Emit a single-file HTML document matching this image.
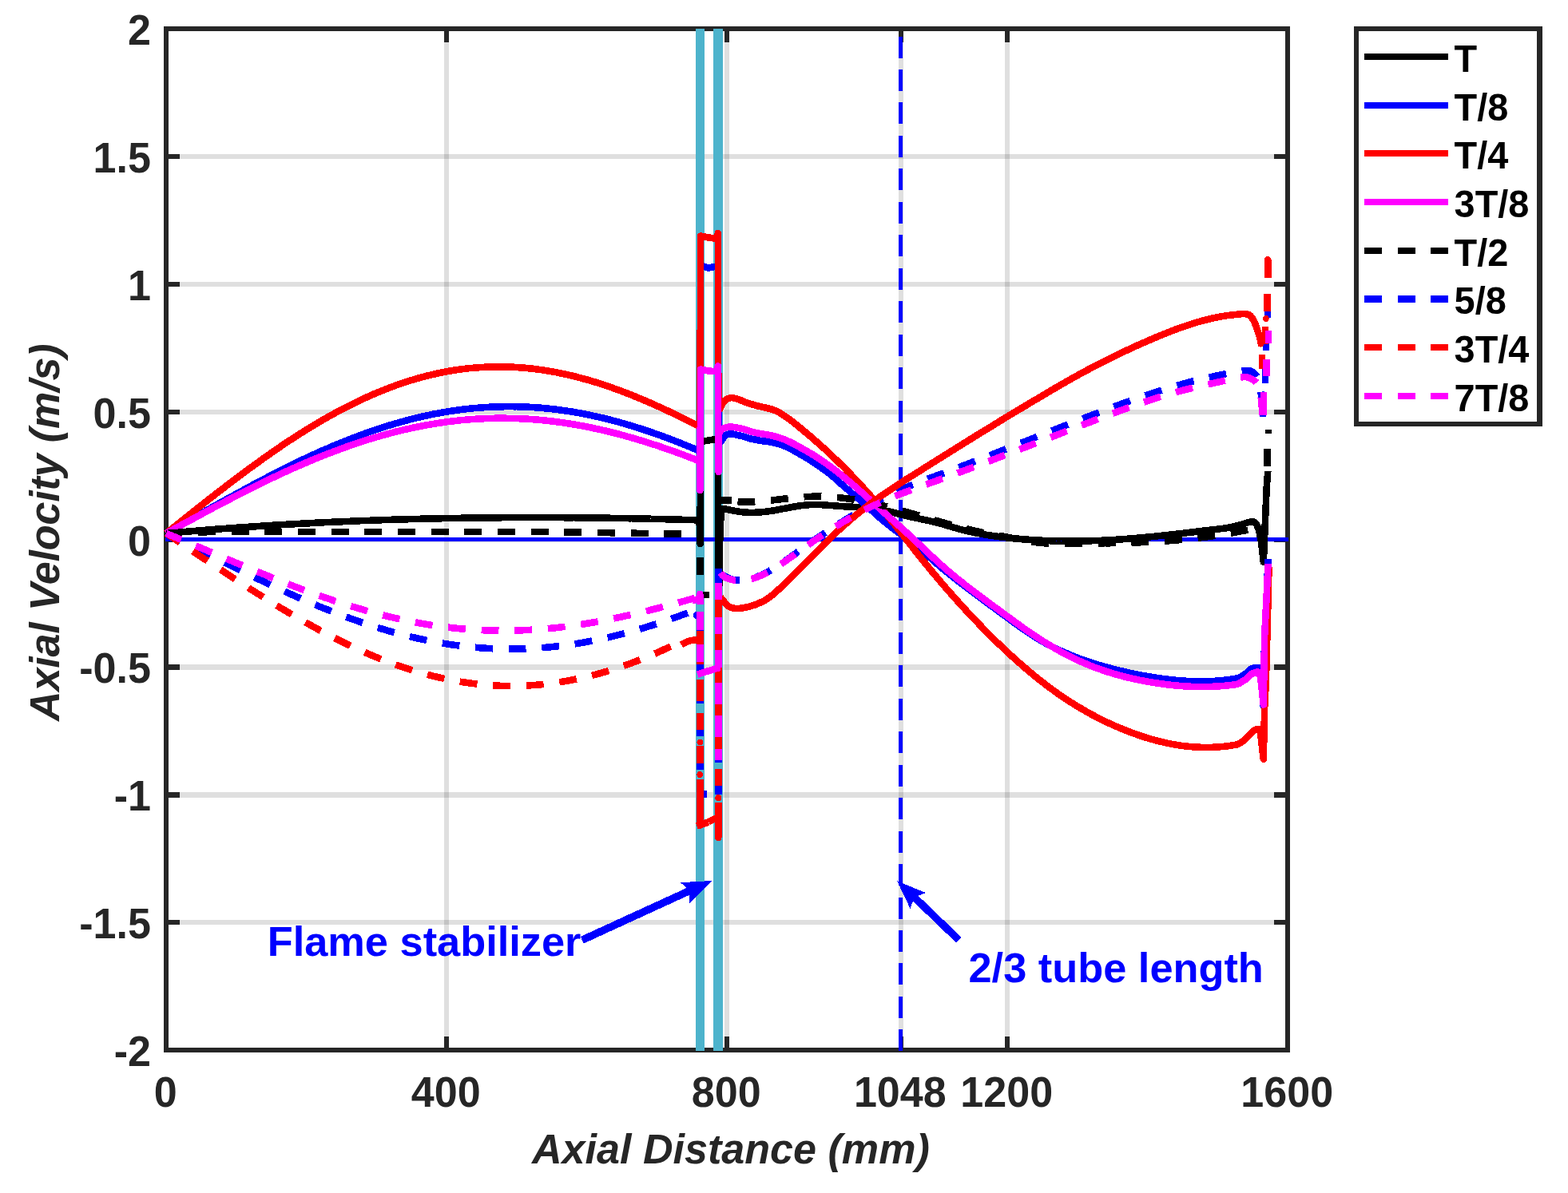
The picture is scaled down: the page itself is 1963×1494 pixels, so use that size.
<!DOCTYPE html>
<html lang="en"><head><meta charset="utf-8"><title>Axial Velocity vs Axial Distance</title>
<style>html,body{margin:0;padding:0;background:#fff;}body{width:1963px;height:1494px;overflow:hidden;}svg{display:block;}text{font-family:"Liberation Sans",Arial,Helvetica,sans-serif;font-weight:bold;}</style>
</head><body>
<svg width="1963" height="1494" viewBox="0 0 1963 1494" role="img" aria-label="Axial velocity versus axial distance at eight phases of the oscillation period">
<rect width="1963" height="1494" fill="#fff"/>
<g fill="#262626" shape-rendering="crispEdges">
<rect x="205" y="33" width="1410" height="6"/>
<rect x="205" y="1312" width="1410" height="6"/>
<rect x="205" y="33" width="6" height="1285"/>
<rect x="1609" y="33" width="6" height="1285"/>
<rect x="556" y="39" width="6" height="14"/>
<rect x="556" y="1298" width="6" height="14"/>
<rect x="907" y="39" width="6" height="14"/>
<rect x="907" y="1298" width="6" height="14"/>
<rect x="1125" y="39" width="6" height="14"/>
<rect x="1125" y="1298" width="6" height="14"/>
<rect x="1258" y="39" width="6" height="14"/>
<rect x="1258" y="1298" width="6" height="14"/>
<rect x="211" y="193" width="14" height="6"/>
<rect x="1595" y="193" width="14" height="6"/>
<rect x="211" y="353" width="14" height="6"/>
<rect x="1595" y="353" width="14" height="6"/>
<rect x="211" y="513" width="14" height="6"/>
<rect x="1595" y="513" width="14" height="6"/>
<rect x="211" y="673" width="14" height="6"/>
<rect x="1595" y="673" width="14" height="6"/>
<rect x="211" y="832" width="14" height="7"/>
<rect x="1595" y="832" width="14" height="7"/>
<rect x="211" y="992" width="14" height="7"/>
<rect x="1595" y="992" width="14" height="7"/>
<rect x="211" y="1152" width="14" height="6"/>
<rect x="1595" y="1152" width="14" height="6"/>
</g>
<g fill="#262626" fill-opacity="0.15" shape-rendering="crispEdges">
<rect x="556" y="53" width="6" height="1245"/>
<rect x="907" y="53" width="6" height="1245"/>
<rect x="1125" y="53" width="6" height="1245"/>
<rect x="1258" y="53" width="6" height="1245"/>
<rect x="225" y="193" width="1370" height="6"/>
<rect x="225" y="353" width="1370" height="6"/>
<rect x="225" y="513" width="1370" height="6"/>
<rect x="225" y="673" width="1370" height="6"/>
<rect x="225" y="832" width="1370" height="7"/>
<rect x="225" y="992" width="1370" height="7"/>
<rect x="225" y="1152" width="1370" height="6"/>
</g>
<g fill="#4db3cc" shape-rendering="crispEdges">
<rect x="871" y="36" width="11" height="1280"/>
<rect x="893" y="36" width="12" height="1280"/>
</g>
<rect x="207" y="673" width="1406" height="5" fill="#0000ff" shape-rendering="crispEdges"/>
<g fill="#0000ff" shape-rendering="crispEdges">
<rect x="1125" y="45.5" width="5" height="27.0"/>
<rect x="1125" y="87.0" width="5" height="27.0"/>
<rect x="1125" y="128.4" width="5" height="27.0"/>
<rect x="1125" y="169.9" width="5" height="27.0"/>
<rect x="1125" y="211.3" width="5" height="27.0"/>
<rect x="1125" y="252.8" width="5" height="27.0"/>
<rect x="1125" y="294.3" width="5" height="27.0"/>
<rect x="1125" y="335.7" width="5" height="27.0"/>
<rect x="1125" y="377.2" width="5" height="27.0"/>
<rect x="1125" y="418.6" width="5" height="27.0"/>
<rect x="1125" y="460.1" width="5" height="27.0"/>
<rect x="1125" y="501.6" width="5" height="27.0"/>
<rect x="1125" y="543.0" width="5" height="27.0"/>
<rect x="1125" y="584.5" width="5" height="27.0"/>
<rect x="1125" y="625.9" width="5" height="27.0"/>
<rect x="1125" y="667.4" width="5" height="27.0"/>
<rect x="1125" y="708.9" width="5" height="27.0"/>
<rect x="1125" y="750.3" width="5" height="27.0"/>
<rect x="1125" y="791.8" width="5" height="27.0"/>
<rect x="1125" y="833.2" width="5" height="27.0"/>
<rect x="1125" y="874.7" width="5" height="27.0"/>
<rect x="1125" y="916.2" width="5" height="27.0"/>
<rect x="1125" y="957.6" width="5" height="27.0"/>
<rect x="1125" y="999.1" width="5" height="27.0"/>
<rect x="1125" y="1040.5" width="5" height="27.0"/>
<rect x="1125" y="1082.0" width="5" height="27.0"/>
<rect x="1125" y="1123.5" width="5" height="27.0"/>
<rect x="1125" y="1164.9" width="5" height="27.0"/>
<rect x="1125" y="1206.4" width="5" height="27.0"/>
<rect x="1125" y="1247.8" width="5" height="27.0"/>
<rect x="1125" y="1289.3" width="5" height="27.0"/>
</g>
<g fill="none" stroke-width="8.6" stroke-linejoin="round" stroke-linecap="butt" shape-rendering="crispEdges">
<path d="M208 668 L211 667.7 L214 667.5 L217 667.2 L220 666.9 L223 666.7 L226 666.4 L229 666.1 L232 665.9 L235 665.6 L238 665.4 L241 665.1 L244 664.9 L247 664.6 L250 664.4 L253 664.1 L256 663.9 L259 663.7 L262 663.4 L265 663.2 L268 662.9 L271 662.7 L274 662.5 L277.1 662.3 L280.1 662 L283.1 661.8 L286.1 661.6 L289.1 661.4 L292.1 661.1 L295.1 660.9 L298.1 660.7 L301.1 660.5 L304.1 660.3 L307.1 660.1 L310.1 659.9 L313.1 659.7 L316.1 659.5 L319.1 659.3 L322.1 659.1 L325.1 658.9 L328.1 658.7 L331.1 658.5 L334.1 658.3 L337.1 658.1 L340.1 657.9 L343.1 657.7 L346.1 657.5 L349.1 657.4 L352.1 657.2 L355.1 657 L358.1 656.8 L361.1 656.6 L364.1 656.5 L367.1 656.3 L370.1 656.1 L373.1 656 L376.1 655.8 L379.1 655.6 L382.1 655.5 L385.1 655.3 L388.1 655.2 L391.1 655 L394.1 654.8 L397.1 654.7 L400.1 654.5 L403.1 654.4 L406.1 654.2 L409.2 654.1 L412.2 654 L415.2 653.8 L418.2 653.7 L421.2 653.5 L424.2 653.4 L427.2 653.3 L430.2 653.1 L433.2 653 L436.2 652.9 L439.2 652.7 L442.2 652.6 L445.2 652.5 L448.2 652.4 L451.2 652.2 L454.2 652.1 L457.2 652 L460.2 651.9 L463.2 651.8 L466.2 651.7 L469.2 651.6 L472.2 651.5 L475.2 651.3 L478.2 651.2 L481.2 651.1 L484.2 651 L487.2 650.9 L490.2 650.8 L493.2 650.7 L496.2 650.7 L499.2 650.6 L502.2 650.5 L505.2 650.4 L508.2 650.3 L511.2 650.2 L514.2 650.1 L517.2 650 L520.2 650 L523.2 649.9 L526.2 649.8 L529.2 649.7 L532.2 649.7 L535.2 649.6 L538.2 649.5 L541.2 649.4 L544.3 649.4 L547.3 649.3 L550.3 649.3 L553.3 649.2 L556.3 649.1 L559.3 649.1 L562.3 649 L565.3 649 L568.3 648.9 L571.3 648.9 L574.3 648.8 L577.3 648.8 L580.3 648.7 L583.3 648.7 L586.3 648.6 L589.3 648.6 L592.3 648.5 L595.3 648.5 L598.3 648.5 L601.3 648.4 L604.3 648.4 L607.3 648.4 L610.3 648.3 L613.3 648.3 L616.3 648.3 L619.3 648.2 L622.3 648.2 L625.3 648.2 L628.3 648.2 L631.3 648.1 L634.3 648.1 L637.3 648.1 L640.3 648.1 L643.3 648.1 L646.3 648.1 L649.3 648.1 L652.3 648.1 L655.3 648 L658.3 648 L661.3 648 L664.3 648 L667.3 648 L670.3 648 L673.3 648 L676.4 648 L679.4 648 L682.4 648 L685.4 648.1 L688.4 648.1 L691.4 648.1 L694.4 648.1 L697.4 648.1 L700.4 648.1 L703.4 648.1 L706.4 648.2 L709.4 648.2 L712.4 648.2 L715.4 648.2 L718.4 648.2 L721.4 648.3 L724.4 648.3 L727.4 648.3 L730.4 648.3 L733.4 648.4 L736.4 648.4 L739.4 648.4 L742.4 648.5 L745.4 648.5 L748.4 648.6 L751.4 648.6 L754.4 648.6 L757.4 648.7 L760.4 648.7 L763.4 648.8 L766.4 648.8 L769.4 648.9 L772.4 648.9 L775.4 649 L778.4 649 L781.4 649.1 L784.4 649.1 L787.4 649.2 L790.4 649.2 L793.4 649.3 L796.4 649.4 L799.4 649.4 L802.4 649.5 L805.4 649.6 L808.5 649.6 L811.5 649.7 L814.5 649.8 L817.5 649.8 L820.5 649.9 L823.5 650 L826.5 650.1 L829.5 650.1 L832.5 650.2 L835.5 650.3 L838.5 650.4 L841.5 650.4 L844.5 650.5 L847.5 650.6 L850.5 650.7 L853.5 650.8 L856.5 650.9 L859.5 651 L862.5 651.1 L865.5 651.1 L868.5 651.2 L871.5 651.3 L874.5 651.4 L876.3 660 L876.6 681 L877.2 553 L887 551.5 L898 549.6 L898.8 547.5 L899.3 700 L900.2 735 L901.5 660 L903.5 637 L903.5 637 L906.5 637.4 L909.5 637.8 L912.5 638.4 L915.5 639 L918.5 639.6 L921.5 640.1 L924.4 640.6 L927.4 641 L930.4 641.4 L933.4 641.6 L936.4 641.8 L939.4 641.9 L942.4 641.9 L945.4 641.8 L948.4 641.7 L951.4 641.5 L954.4 641.2 L957.4 640.9 L960.4 640.5 L963.4 640.1 L966.3 639.7 L969.3 639.2 L972.3 638.7 L975.3 638.1 L978.3 637.5 L981.3 637 L984.3 636.4 L987.3 635.8 L990.3 635.2 L993.3 634.7 L996.3 634.2 L999.3 633.7 L1002.3 633.3 L1005.3 632.9 L1008.2 632.5 L1011.2 632.3 L1014.2 632.1 L1017.2 631.9 L1020.2 631.9 L1023.2 631.9 L1026.2 632 L1029.2 632.2 L1032.2 632.4 L1035.2 632.7 L1038.2 632.9 L1041.2 633.1 L1044.2 633.3 L1047.2 633.6 L1050.1 633.8 L1053.1 634 L1056.1 634.2 L1059.1 634.4 L1062.1 634.5 L1065.1 634.7 L1068.1 634.8 L1071.1 635 L1074.1 635.2 L1077.1 635.3 L1080.1 635.5 L1083.1 635.8 L1086.1 636 L1089 636.3 L1092 636.7 L1095 637 L1098 637.5 L1101 638 L1104 638.6 L1107 639.2 L1110 639.8 L1113 640.5 L1116 641.2 L1119 642 L1122 642.7 L1125 643.5 L1128 644.2 L1130.9 645 L1133.9 645.8 L1136.9 646.5 L1139.9 647.2 L1142.9 647.9 L1145.9 648.6 L1148.9 649.2 L1151.9 649.8 L1154.9 650.5 L1157.9 651.1 L1160.9 651.7 L1163.9 652.4 L1166.9 653 L1169.9 653.8 L1172.8 654.5 L1175.8 655.3 L1178.8 656.1 L1181.8 657 L1184.8 657.9 L1187.8 658.8 L1190.8 659.7 L1193.8 660.6 L1196.8 661.4 L1199.8 662.3 L1202.8 663.1 L1205.8 663.8 L1208.8 664.5 L1211.8 665.3 L1214.7 665.9 L1217.7 666.6 L1220.7 667.2 L1223.7 667.8 L1226.7 668.3 L1229.7 668.9 L1232.7 669.4 L1235.7 669.9 L1238.7 670.4 L1241.7 670.8 L1244.7 671.3 L1247.7 671.7 L1250.7 672.1 L1253.6 672.5 L1256.6 672.8 L1259.6 673.2 L1262.6 673.5 L1265.6 673.9 L1268.6 674.2 L1271.6 674.5 L1274.6 674.7 L1277.6 675 L1280.6 675.3 L1283.6 675.5 L1286.6 675.7 L1289.6 676 L1292.6 676.2 L1295.5 676.3 L1298.5 676.5 L1301.5 676.7 L1304.5 676.8 L1307.5 677 L1310.5 677.1 L1313.5 677.2 L1316.5 677.3 L1319.5 677.4 L1322.5 677.5 L1325.5 677.5 L1328.5 677.6 L1331.5 677.6 L1334.5 677.7 L1337.4 677.7 L1340.4 677.7 L1343.4 677.7 L1346.4 677.7 L1349.4 677.6 L1352.4 677.6 L1355.4 677.6 L1358.4 677.5 L1361.4 677.4 L1364.4 677.3 L1367.4 677.2 L1370.4 677.1 L1373.4 677 L1376.3 676.9 L1379.3 676.8 L1382.3 676.6 L1385.3 676.5 L1388.3 676.3 L1391.3 676.1 L1394.3 676 L1397.3 675.8 L1400.3 675.6 L1403.3 675.4 L1406.3 675.2 L1409.3 674.9 L1412.3 674.7 L1415.3 674.5 L1418.2 674.2 L1421.2 674 L1424.2 673.7 L1427.2 673.5 L1430.2 673.2 L1433.2 672.9 L1436.2 672.6 L1439.2 672.3 L1442.2 672.1 L1445.2 671.8 L1448.2 671.4 L1451.2 671.1 L1454.2 670.8 L1457.2 670.5 L1460.1 670.2 L1463.1 669.9 L1466.1 669.5 L1469.1 669.2 L1472.1 668.8 L1475.1 668.5 L1478.1 668.1 L1481.1 667.8 L1484.1 667.4 L1487.1 667.1 L1490.1 666.7 L1493.1 666.4 L1496.1 666 L1499.1 665.6 L1502 665.3 L1505 664.9 L1508 664.5 L1511 664.1 L1514 663.8 L1517 663.4 L1520 663 L1520 663 L1522.9 662.8 L1525.9 662.5 L1528.8 662.1 L1531.8 661.7 L1534.7 661.3 L1537.7 660.8 L1540.6 660.2 L1543.5 659.5 L1546.5 658.8 L1549.4 658 L1552.4 657.3 L1555.3 656.5 L1558.3 655.6 L1561.2 654.7 L1564.1 653.8 L1567.1 653.1 L1570 653.8 L1573 656.7 L1575.9 663.2 L1578.9 677.7 L1581.8 703.9 L1584.3 644.3 L1585.6 612 L1587.3 590" stroke="#000"/>
<path d="M208 668 L211 666.3 L214 664.6 L217 662.9 L220 661.2 L223 659.5 L226 657.8 L229 656 L232 654.3 L235 652.6 L238 650.9 L241 649.2 L244 647.5 L247 645.8 L250 644.1 L253 642.4 L256 640.7 L259 639 L262 637.3 L265 635.6 L268 633.9 L271 632.3 L274 630.6 L277.1 628.9 L280.1 627.2 L283.1 625.5 L286.1 623.9 L289.1 622.2 L292.1 620.6 L295.1 618.9 L298.1 617.3 L301.1 615.6 L304.1 614 L307.1 612.4 L310.1 610.7 L313.1 609.1 L316.1 607.5 L319.1 605.9 L322.1 604.3 L325.1 602.7 L328.1 601.1 L331.1 599.6 L334.1 598 L337.1 596.4 L340.1 594.9 L343.1 593.3 L346.1 591.8 L349.1 590.3 L352.1 588.8 L355.1 587.3 L358.1 585.8 L361.1 584.3 L364.1 582.8 L367.1 581.3 L370.1 579.9 L373.1 578.4 L376.1 577 L379.1 575.5 L382.1 574.1 L385.1 572.7 L388.1 571.3 L391.1 569.9 L394.1 568.6 L397.1 567.2 L400.1 565.9 L403.1 564.5 L406.1 563.2 L409.2 561.9 L412.2 560.6 L415.2 559.3 L418.2 558 L421.2 556.8 L424.2 555.5 L427.2 554.3 L430.2 553.1 L433.2 551.9 L436.2 550.7 L439.2 549.5 L442.2 548.4 L445.2 547.2 L448.2 546.1 L451.2 545 L454.2 543.9 L457.2 542.8 L460.2 541.7 L463.2 540.6 L466.2 539.6 L469.2 538.6 L472.2 537.6 L475.2 536.6 L478.2 535.6 L481.2 534.6 L484.2 533.7 L487.2 532.8 L490.2 531.8 L493.2 530.9 L496.2 530.1 L499.2 529.2 L502.2 528.4 L505.2 527.5 L508.2 526.7 L511.2 525.9 L514.2 525.1 L517.2 524.4 L520.2 523.6 L523.2 522.9 L526.2 522.2 L529.2 521.5 L532.2 520.8 L535.2 520.2 L538.2 519.6 L541.2 518.9 L544.3 518.3 L547.3 517.8 L550.3 517.2 L553.3 516.7 L556.3 516.1 L559.3 515.6 L562.3 515.1 L565.3 514.7 L568.3 514.2 L571.3 513.8 L574.3 513.4 L577.3 513 L580.3 512.6 L583.3 512.2 L586.3 511.9 L589.3 511.6 L592.3 511.3 L595.3 511 L598.3 510.8 L601.3 510.5 L604.3 510.3 L607.3 510.1 L610.3 509.9 L613.3 509.7 L616.3 509.6 L619.3 509.5 L622.3 509.4 L625.3 509.3 L628.3 509.2 L631.3 509.2 L634.3 509.1 L637.3 509.1 L640.3 509.1 L643.3 509.2 L646.3 509.2 L649.3 509.3 L652.3 509.4 L655.3 509.5 L658.3 509.6 L661.3 509.7 L664.3 509.9 L667.3 510.1 L670.3 510.3 L673.3 510.5 L676.4 510.7 L679.4 511 L682.4 511.3 L685.4 511.6 L688.4 511.9 L691.4 512.2 L694.4 512.6 L697.4 512.9 L700.4 513.3 L703.4 513.7 L706.4 514.2 L709.4 514.6 L712.4 515.1 L715.4 515.5 L718.4 516 L721.4 516.6 L724.4 517.1 L727.4 517.6 L730.4 518.2 L733.4 518.8 L736.4 519.4 L739.4 520 L742.4 520.7 L745.4 521.3 L748.4 522 L751.4 522.7 L754.4 523.4 L757.4 524.1 L760.4 524.9 L763.4 525.6 L766.4 526.4 L769.4 527.2 L772.4 528 L775.4 528.8 L778.4 529.7 L781.4 530.5 L784.4 531.4 L787.4 532.3 L790.4 533.2 L793.4 534.1 L796.4 535.1 L799.4 536 L802.4 537 L805.4 538 L808.5 539 L811.5 540 L814.5 541 L817.5 542 L820.5 543.1 L823.5 544.1 L826.5 545.2 L829.5 546.3 L832.5 547.4 L835.5 548.6 L838.5 549.7 L841.5 550.8 L844.5 552 L847.5 553.2 L850.5 554.3 L853.5 555.5 L856.5 556.8 L859.5 558 L862.5 559.2 L865.5 560.5 L868.5 561.7 L871.5 563 L874.5 564.3 L876.3 568 L876.6 580 L877.2 332.5 L887 335.5 L898 333.5 L898.8 331 L899.3 545 L900 556 L901 554.8 L902 553.5 L903 552.2 L904 550.7 L905 549.4 L905.9 548 L906.9 546.8 L907.9 545.7 L908.9 545 L909.9 544.4 L910.9 543.9 L911.9 543.6 L912.9 543.5 L913.9 543.4 L914.9 543.4 L915.8 543.4 L916.8 543.5 L917.8 543.6 L918.8 543.9 L919.8 544.1 L920.8 544.3 L921.8 544.6 L922.8 544.8 L923.8 545 L924.8 545.2 L925.7 545.4 L926.7 545.6 L927.7 545.8 L928.7 546 L929.7 546.3 L930.7 546.5 L933.7 547.6 L936.6 548.5 L939.6 549.4 L942.6 550.1 L945.6 550.7 L948.5 551.3 L951.5 551.8 L954.5 552.2 L957.4 552.6 L960.4 553 L963.4 553.4 L966.4 553.9 L969.3 554.6 L972.3 555.3 L975.3 556.2 L978.2 557.2 L981.2 558.2 L984.2 559.4 L987.1 560.8 L990.1 562.4 L993.1 564 L996.1 565.7 L999 567.3 L1002 569 L1002 569 L1005 570.6 L1008 572.4 L1011 574.2 L1014 576.1 L1017 578.1 L1020 580.2 L1023 582.2 L1026 584.3 L1029 586.4 L1032 588.5 L1035 590.6 L1038 592.9 L1041 595.4 L1044 597.9 L1047 600.6 L1050 603.3 L1053 606 L1056 608.6 L1059 611.2 L1062 613.8 L1065 616.3 L1068 618.9 L1071 621.4 L1074 624 L1077 626.6 L1080 629.2 L1083 631.8 L1086 634.5 L1089 637.2 L1092 639.9 L1095 642.7 L1098 645.3 L1101 648 L1104 650.6 L1107 653.1 L1110 655.6 L1113 658 L1116 660.4 L1119 662.6 L1122 664.9 L1125 667.1 L1128 669.4 L1131 671.6 L1134 673.8 L1137 676 L1140 678.3 L1143 680.6 L1146 682.9 L1149 685.3 L1152 687.8 L1155 690.3 L1158 692.9 L1161 695.5 L1164 698.1 L1167 700.7 L1170 703.4 L1173 706 L1176 708.6 L1179 711.2 L1182 713.7 L1185 716.1 L1188 718.6 L1191 721 L1194 723.4 L1197 725.7 L1200 728.1 L1203 730.4 L1206 732.7 L1209 735 L1212 737.2 L1215 739.5 L1218 741.7 L1221 744 L1224 746.2 L1227 748.4 L1230 750.7 L1233 752.9 L1236 755.1 L1239 757.3 L1242 759.5 L1245 761.7 L1248 763.9 L1251 766.1 L1254 768.3 L1257 770.5 L1260 772.7 L1263 774.9 L1266 777.2 L1269 779.3 L1272 781.5 L1275 783.7 L1278 785.8 L1281 787.9 L1284 790 L1287 792 L1290 794 L1293 795.9 L1296 797.8 L1299 799.6 L1302 801.4 L1305 803.2 L1308 804.9 L1311 806.5 L1314 808.1 L1317 809.7 L1320 811.2 L1323 812.6 L1326 814.1 L1329 815.5 L1332 816.8 L1335 818.1 L1338 819.4 L1341 820.7 L1344 821.9 L1347 823 L1350 824.2 L1353 825.3 L1356 826.4 L1359 827.4 L1362 828.5 L1365 829.5 L1368 830.4 L1371 831.4 L1374 832.3 L1377 833.2 L1380 834.1 L1383 834.9 L1386 835.7 L1389 836.5 L1392 837.3 L1395 838.1 L1398 838.9 L1401 839.6 L1404 840.3 L1407 841 L1410 841.7 L1413 842.4 L1416 843 L1419 843.7 L1422 844.3 L1425 844.9 L1428 845.5 L1431 846 L1434 846.6 L1437 847.1 L1440 847.6 L1443 848.1 L1446 848.6 L1449 849 L1452 849.5 L1455 849.9 L1458 850.3 L1461 850.6 L1464 851 L1467 851.3 L1470 851.6 L1473 851.9 L1476 852.2 L1479 852.4 L1482 852.6 L1485 852.8 L1488 853 L1491 853.1 L1494 853.2 L1497 853.3 L1500 853.4 L1503 853.4 L1506 853.4 L1509 853.3 L1512 853.2 L1515 853.1 L1518 853 L1521 852.8 L1524 852.6 L1527 852.4 L1530 852.1 L1533 851.7 L1536 851.4 L1539 851 L1542 850.5 L1545 850 L1548 849.5 L1548 849.5 L1549 849.2 L1550 848.9 L1551 848.6 L1551.9 848.2 L1552.9 847.7 L1553.9 847.1 L1554.9 846.5 L1555.9 845.9 L1556.9 845.3 L1557.9 844.6 L1558.8 843.9 L1559.8 843.2 L1560.8 842.5 L1561.8 841.6 L1562.8 840.6 L1563.8 839.6 L1564.8 838.7 L1565.7 838 L1566.7 837.4 L1567.7 837 L1568.7 836.7 L1569.7 836.3 L1570.7 836.1 L1571.6 836 L1572.6 836 L1573.6 836 L1574.6 836 L1575.6 836 L1576.6 836 L1577.6 839.2 L1578.5 845.3 L1579.5 855.9 L1580.5 868.9 L1581.5 884 L1583.2 795 L1585.9 741.4 L1587.5 700" stroke="#00f"/>
<path d="M208 668 L211 665.6 L214 663.2 L217 660.8 L220 658.4 L223 656 L226 653.6 L229 651.2 L232 648.8 L235 646.4 L238 644 L241 641.6 L244 639.2 L247 636.8 L250 634.4 L253 632.1 L256 629.7 L259 627.4 L262 625 L265 622.7 L268 620.3 L271 618 L274 615.7 L277.1 613.3 L280.1 611 L283.1 608.7 L286.1 606.4 L289.1 604.1 L292.1 601.9 L295.1 599.6 L298.1 597.3 L301.1 595.1 L304.1 592.9 L307.1 590.6 L310.1 588.4 L313.1 586.2 L316.1 584 L319.1 581.8 L322.1 579.7 L325.1 577.5 L328.1 575.3 L331.1 573.2 L334.1 571.1 L337.1 569 L340.1 566.9 L343.1 564.8 L346.1 562.7 L349.1 560.7 L352.1 558.6 L355.1 556.6 L358.1 554.6 L361.1 552.6 L364.1 550.6 L367.1 548.7 L370.1 546.7 L373.1 544.8 L376.1 542.9 L379.1 541 L382.1 539.1 L385.1 537.3 L388.1 535.4 L391.1 533.6 L394.1 531.8 L397.1 530 L400.1 528.2 L403.1 526.5 L406.1 524.7 L409.2 523 L412.2 521.3 L415.2 519.6 L418.2 518 L421.2 516.3 L424.2 514.7 L427.2 513.1 L430.2 511.6 L433.2 510 L436.2 508.5 L439.2 507 L442.2 505.5 L445.2 504 L448.2 502.5 L451.2 501.1 L454.2 499.7 L457.2 498.3 L460.2 497 L463.2 495.6 L466.2 494.3 L469.2 493 L472.2 491.7 L475.2 490.5 L478.2 489.3 L481.2 488.1 L484.2 486.9 L487.2 485.7 L490.2 484.6 L493.2 483.5 L496.2 482.4 L499.2 481.3 L502.2 480.3 L505.2 479.3 L508.2 478.3 L511.2 477.3 L514.2 476.4 L517.2 475.5 L520.2 474.6 L523.2 473.7 L526.2 472.9 L529.2 472.1 L532.2 471.3 L535.2 470.5 L538.2 469.8 L541.2 469.1 L544.3 468.4 L547.3 467.7 L550.3 467.1 L553.3 466.4 L556.3 465.8 L559.3 465.3 L562.3 464.7 L565.3 464.2 L568.3 463.7 L571.3 463.3 L574.3 462.8 L577.3 462.4 L580.3 462 L583.3 461.7 L586.3 461.3 L589.3 461 L592.3 460.8 L595.3 460.5 L598.3 460.3 L601.3 460.1 L604.3 459.9 L607.3 459.7 L610.3 459.6 L613.3 459.5 L616.3 459.4 L619.3 459.3 L622.3 459.3 L625.3 459.3 L628.3 459.3 L631.3 459.4 L634.3 459.4 L637.3 459.5 L640.3 459.6 L643.3 459.8 L646.3 460 L649.3 460.2 L652.3 460.4 L655.3 460.6 L658.3 460.9 L661.3 461.2 L664.3 461.5 L667.3 461.8 L670.3 462.2 L673.3 462.6 L676.4 463 L679.4 463.4 L682.4 463.9 L685.4 464.4 L688.4 464.9 L691.4 465.4 L694.4 465.9 L697.4 466.5 L700.4 467.1 L703.4 467.7 L706.4 468.4 L709.4 469 L712.4 469.7 L715.4 470.4 L718.4 471.1 L721.4 471.9 L724.4 472.7 L727.4 473.4 L730.4 474.3 L733.4 475.1 L736.4 475.9 L739.4 476.8 L742.4 477.7 L745.4 478.6 L748.4 479.6 L751.4 480.5 L754.4 481.5 L757.4 482.5 L760.4 483.5 L763.4 484.5 L766.4 485.6 L769.4 486.7 L772.4 487.7 L775.4 488.8 L778.4 490 L781.4 491.1 L784.4 492.3 L787.4 493.4 L790.4 494.6 L793.4 495.8 L796.4 497.1 L799.4 498.3 L802.4 499.5 L805.4 500.8 L808.5 502.1 L811.5 503.4 L814.5 504.7 L817.5 506.1 L820.5 507.4 L823.5 508.8 L826.5 510.1 L829.5 511.5 L832.5 512.9 L835.5 514.3 L838.5 515.7 L841.5 517.2 L844.5 518.6 L847.5 520.1 L850.5 521.6 L853.5 523.1 L856.5 524.5 L859.5 526.1 L862.5 527.6 L865.5 529.1 L868.5 530.6 L871.5 532.2 L874.5 533.7 L876 536 L876.4 542 L877.2 295.5 L887 297.5 L898 299 L898.8 292 L899.3 505 L900 513.5 L901 512.1 L902 510.5 L903 508.6 L904 506.5 L905 504.8 L905.9 503.3 L906.9 502.1 L907.9 501.2 L908.9 500.4 L909.9 499.8 L910.9 499.3 L911.9 499 L912.9 498.7 L913.9 498.4 L914.9 498.2 L915.8 498.1 L916.8 498.1 L917.8 498.3 L918.8 498.5 L919.8 498.8 L920.8 499.1 L921.8 499.4 L922.8 499.7 L923.8 500 L924.8 500.4 L925.7 500.7 L926.7 501.1 L927.7 501.4 L928.7 501.8 L929.7 502.3 L930.7 502.7 L933.7 503.8 L936.6 504.8 L939.6 505.8 L942.6 506.7 L945.6 507.6 L948.5 508.4 L951.5 509.1 L954.5 509.7 L957.4 510.4 L960.4 511.1 L963.4 511.8 L966.4 512.6 L969.3 513.7 L972.3 515 L975.3 516.5 L978.2 518.3 L981.2 520.2 L984.2 522.3 L987.1 524.3 L990.1 526.5 L993.1 528.8 L996.1 531.1 L999 533.5 L1002 536 L1005 538.5 L1008 541 L1011 543.5 L1014 546 L1017 548.6 L1020 551.2 L1023 553.9 L1026 556.5 L1029 559.2 L1032 561.9 L1035 564.7 L1038 567.5 L1041 570.3 L1044 573.2 L1047 576 L1050 579 L1053 581.9 L1056 584.9 L1059 587.9 L1062 591 L1065 594 L1068 597.2 L1071 600.3 L1074 603.5 L1077 606.7 L1080 610 L1083 613.3 L1086 616.6 L1089 620 L1092 623.4 L1095 626.9 L1098 630.4 L1101 633.9 L1104 637.4 L1107 641 L1110 644.6 L1113 648.3 L1116 652 L1119 655.7 L1122 659.5 L1125 663.3 L1128 667.1 L1131 670.9 L1134 674.7 L1137 678.6 L1140 682.4 L1143 686.2 L1146 690 L1149 693.8 L1152 697.6 L1155 701.3 L1158 705 L1161 708.7 L1164 712.3 L1167 716 L1170 719.6 L1173 723.1 L1176 726.7 L1179 730.2 L1182 733.7 L1185 737.2 L1188 740.6 L1191 744 L1194 747.4 L1197 750.8 L1200 754.1 L1203 757.4 L1206 760.7 L1209 764 L1212 767.2 L1215 770.4 L1218 773.6 L1221 776.7 L1224 779.9 L1227 783 L1230 786.1 L1233 789.1 L1236 792.2 L1239 795.2 L1242 798.2 L1245 801.1 L1248 804.1 L1251 807 L1254 809.8 L1257 812.7 L1260 815.5 L1263 818.3 L1266 821.1 L1269 823.8 L1272 826.5 L1275 829.2 L1278 831.8 L1281 834.4 L1284 837 L1287 839.6 L1290 842.1 L1293 844.6 L1296 847 L1299 849.5 L1302 851.8 L1305 854.2 L1308 856.5 L1311 858.8 L1314 861.1 L1317 863.3 L1320 865.4 L1323 867.6 L1326 869.7 L1329 871.8 L1332 873.8 L1335 875.8 L1338 877.8 L1341 879.7 L1344 881.6 L1347 883.4 L1350 885.3 L1353 887 L1356 888.8 L1359 890.5 L1362 892.2 L1365 893.9 L1368 895.5 L1371 897.1 L1374 898.6 L1377 900.2 L1380 901.7 L1383 903.1 L1386 904.6 L1389 906 L1392 907.3 L1395 908.7 L1398 910 L1401 911.3 L1404 912.5 L1407 913.7 L1410 914.9 L1413 916.1 L1416 917.3 L1419 918.4 L1422 919.4 L1425 920.5 L1428 921.5 L1431 922.5 L1434 923.5 L1437 924.4 L1440 925.3 L1443 926.1 L1446 927 L1449 927.8 L1452 928.5 L1455 929.2 L1458 929.9 L1461 930.6 L1464 931.2 L1467 931.8 L1470 932.3 L1473 932.8 L1476 933.3 L1479 933.8 L1482 934.2 L1485 934.5 L1488 934.8 L1491 935.1 L1494 935.4 L1497 935.6 L1500 935.7 L1503 935.8 L1506 935.9 L1509 936 L1512 936 L1515 935.9 L1518 935.8 L1521 935.7 L1524 935.5 L1527 935.3 L1530 935 L1533 934.7 L1536 934.4 L1539 934 L1542 933.5 L1545 933 L1548 932.5 L1548 932.5 L1549 932.2 L1550 931.8 L1551 931.3 L1552 930.8 L1553 930.2 L1553.9 929.6 L1554.9 929 L1555.9 928.3 L1556.9 927.5 L1557.9 926.7 L1558.9 925.8 L1559.9 924.9 L1560.9 923.9 L1561.9 922.9 L1562.9 921.7 L1563.9 920.6 L1564.8 919.4 L1565.8 918.4 L1566.8 917.5 L1567.8 916.7 L1568.8 915.8 L1569.8 915.1 L1570.8 914.5 L1571.8 913.9 L1572.8 913.5 L1573.8 913.1 L1574.8 912.9 L1575.8 912.9 L1576.7 914.2 L1577.7 916.9 L1578.7 923.8 L1579.7 932.4 L1580.7 941.9 L1581.7 950.7 L1582.6 914.1 L1583.1 887.4 L1584.9 851.7 L1586.8 780 L1588.5 710" stroke="#f00"/>
<path d="M208 668 L211 666.4 L214 664.7 L217 663.1 L220 661.4 L223 659.8 L226 658.1 L229 656.5 L232 654.9 L235 653.2 L238 651.6 L241 650 L244 648.3 L247 646.7 L250 645.1 L253 643.5 L256 641.9 L259 640.2 L262 638.6 L265 637 L268 635.4 L271 633.8 L274 632.3 L277.1 630.7 L280.1 629.1 L283.1 627.5 L286.1 626 L289.1 624.4 L292.1 622.8 L295.1 621.3 L298.1 619.7 L301.1 618.2 L304.1 616.7 L307.1 615.2 L310.1 613.6 L313.1 612.1 L316.1 610.6 L319.1 609.1 L322.1 607.7 L325.1 606.2 L328.1 604.7 L331.1 603.2 L334.1 601.8 L337.1 600.3 L340.1 598.9 L343.1 597.5 L346.1 596.1 L349.1 594.7 L352.1 593.3 L355.1 591.9 L358.1 590.5 L361.1 589.1 L364.1 587.8 L367.1 586.4 L370.1 585.1 L373.1 583.8 L376.1 582.5 L379.1 581.2 L382.1 579.9 L385.1 578.6 L388.1 577.3 L391.1 576.1 L394.1 574.8 L397.1 573.6 L400.1 572.4 L403.1 571.2 L406.1 570 L409.2 568.8 L412.2 567.6 L415.2 566.5 L418.2 565.3 L421.2 564.2 L424.2 563.1 L427.2 562 L430.2 560.9 L433.2 559.8 L436.2 558.7 L439.2 557.7 L442.2 556.6 L445.2 555.6 L448.2 554.6 L451.2 553.6 L454.2 552.6 L457.2 551.7 L460.2 550.7 L463.2 549.8 L466.2 548.9 L469.2 548 L472.2 547.1 L475.2 546.2 L478.2 545.4 L481.2 544.5 L484.2 543.7 L487.2 542.9 L490.2 542.1 L493.2 541.3 L496.2 540.5 L499.2 539.8 L502.2 539.1 L505.2 538.3 L508.2 537.7 L511.2 537 L514.2 536.3 L517.2 535.7 L520.2 535 L523.2 534.4 L526.2 533.8 L529.2 533.2 L532.2 532.7 L535.2 532.1 L538.2 531.6 L541.2 531.1 L544.3 530.6 L547.3 530.1 L550.3 529.6 L553.3 529.2 L556.3 528.8 L559.3 528.3 L562.3 527.9 L565.3 527.6 L568.3 527.2 L571.3 526.9 L574.3 526.5 L577.3 526.2 L580.3 526 L583.3 525.7 L586.3 525.4 L589.3 525.2 L592.3 525 L595.3 524.8 L598.3 524.6 L601.3 524.4 L604.3 524.3 L607.3 524.1 L610.3 524 L613.3 523.9 L616.3 523.9 L619.3 523.8 L622.3 523.7 L625.3 523.7 L628.3 523.7 L631.3 523.7 L634.3 523.8 L637.3 523.8 L640.3 523.9 L643.3 523.9 L646.3 524 L649.3 524.2 L652.3 524.3 L655.3 524.4 L658.3 524.6 L661.3 524.8 L664.3 525 L667.3 525.2 L670.3 525.4 L673.3 525.7 L676.4 526 L679.4 526.2 L682.4 526.6 L685.4 526.9 L688.4 527.2 L691.4 527.6 L694.4 527.9 L697.4 528.3 L700.4 528.7 L703.4 529.1 L706.4 529.6 L709.4 530 L712.4 530.5 L715.4 531 L718.4 531.5 L721.4 532 L724.4 532.5 L727.4 533.1 L730.4 533.6 L733.4 534.2 L736.4 534.8 L739.4 535.4 L742.4 536.1 L745.4 536.7 L748.4 537.4 L751.4 538 L754.4 538.7 L757.4 539.4 L760.4 540.1 L763.4 540.9 L766.4 541.6 L769.4 542.4 L772.4 543.1 L775.4 543.9 L778.4 544.7 L781.4 545.5 L784.4 546.4 L787.4 547.2 L790.4 548.1 L793.4 548.9 L796.4 549.8 L799.4 550.7 L802.4 551.6 L805.4 552.6 L808.5 553.5 L811.5 554.4 L814.5 555.4 L817.5 556.4 L820.5 557.3 L823.5 558.3 L826.5 559.3 L829.5 560.4 L832.5 561.4 L835.5 562.4 L838.5 563.5 L841.5 564.5 L844.5 565.6 L847.5 566.7 L850.5 567.8 L853.5 568.9 L856.5 570 L859.5 571.1 L862.5 572.3 L865.5 573.4 L868.5 574.6 L871.5 575.7 L874.5 576.9 L876 580 L876.4 614 L877.2 462.5 L887 464.5 L898 465.5 L898.8 458.5 L899.5 590.8 L899.7 545 L900.7 541.2 L901.7 539.4 L902.7 538.3 L903.7 537.5 L904.7 536.9 L905.7 536.5 L906.7 536.1 L907.7 535.7 L908.7 535.4 L909.7 535.1 L910.7 534.9 L911.7 534.7 L912.7 534.7 L913.7 534.6 L914.7 534.6 L915.7 534.6 L916.7 534.7 L917.7 534.8 L918.7 534.9 L919.7 535.1 L920.7 535.3 L921.7 535.4 L922.7 535.6 L923.7 535.8 L924.7 536 L925.7 536.2 L926.7 536.4 L927.7 536.6 L928.7 536.8 L929.7 537.1 L930.7 537.3 L933.7 538.3 L936.6 539.3 L939.6 540.2 L942.6 541 L945.6 541.8 L948.5 542.4 L951.5 542.9 L954.5 543.4 L957.4 543.9 L960.4 544.4 L963.4 545 L966.4 545.6 L969.3 546.3 L972.3 547.1 L975.3 548 L978.2 549 L981.2 550.1 L984.2 551.3 L987.1 552.6 L990.1 554.1 L993.1 555.5 L996.1 557.1 L999 558.8 L1002 560.5 L1002 560.5 L1005 562.1 L1008 563.7 L1011 565.5 L1014 567.2 L1017 569 L1020 570.9 L1023 572.8 L1026 574.8 L1029 576.8 L1032 578.9 L1035 581 L1038 583.1 L1041 585.3 L1044 587.6 L1047 589.9 L1050 592.3 L1053 594.6 L1056 597.1 L1059 599.6 L1062 602.1 L1065 604.6 L1068 607.2 L1071 609.8 L1074 612.5 L1077 615.1 L1080 617.8 L1083 620.5 L1086 623.2 L1089 625.9 L1092 628.6 L1095 631.3 L1098 634 L1101 636.7 L1104 639.4 L1107 642.1 L1110 644.8 L1113 647.4 L1116 650.1 L1119 652.7 L1122 655.4 L1125 658 L1128 660.7 L1131 663.4 L1134 666.1 L1137 668.9 L1140 671.7 L1143 674.5 L1146 677.3 L1149 680.1 L1152 682.9 L1155 685.8 L1158 688.6 L1161 691.5 L1164 694.3 L1167 697.1 L1170 699.9 L1173 702.7 L1176 705.4 L1179 708.1 L1182 710.7 L1185 713.3 L1188 715.9 L1191 718.4 L1194 720.9 L1197 723.4 L1200 725.8 L1203 728.2 L1206 730.6 L1209 733 L1212 735.3 L1215 737.6 L1218 739.9 L1221 742.2 L1224 744.4 L1227 746.7 L1230 748.9 L1233 751.1 L1236 753.4 L1239 755.6 L1242 757.8 L1245 760 L1248 762.2 L1251 764.4 L1254 766.6 L1257 768.8 L1260 771 L1263 773.2 L1266 775.4 L1269 777.6 L1272 779.8 L1275 781.9 L1278 784.1 L1281 786.3 L1284 788.4 L1287 790.5 L1290 792.6 L1293 794.6 L1296 796.6 L1299 798.6 L1302 800.5 L1305 802.5 L1308 804.3 L1311 806.2 L1314 808 L1317 809.8 L1320 811.5 L1323 813.3 L1326 814.9 L1329 816.6 L1332 818.2 L1335 819.8 L1338 821.3 L1341 822.8 L1344 824.3 L1347 825.7 L1350 827.1 L1353 828.5 L1356 829.8 L1359 831.1 L1362 832.4 L1365 833.6 L1368 834.8 L1371 835.9 L1374 837.1 L1377 838.1 L1380 839.2 L1383 840.2 L1386 841.2 L1389 842.1 L1392 843.1 L1395 843.9 L1398 844.8 L1401 845.6 L1404 846.4 L1407 847.2 L1410 848 L1413 848.7 L1416 849.4 L1419 850.1 L1422 850.7 L1425 851.4 L1428 852 L1431 852.5 L1434 853.1 L1437 853.6 L1440 854.2 L1443 854.7 L1446 855.2 L1449 855.6 L1452 856.1 L1455 856.5 L1458 856.9 L1461 857.3 L1464 857.6 L1467 858 L1470 858.3 L1473 858.6 L1476 858.8 L1479 859.1 L1482 859.3 L1485 859.5 L1488 859.7 L1491 859.8 L1494 859.9 L1497 860 L1500 860.1 L1503 860.1 L1506 860.1 L1509 860.1 L1512 860 L1515 859.9 L1518 859.8 L1521 859.7 L1524 859.5 L1527 859.3 L1530 859.1 L1533 858.8 L1536 858.5 L1539 858.2 L1542 857.8 L1545 857.4 L1548 857 L1548 857 L1549 856.7 L1550 856.4 L1551 856 L1552 855.5 L1553 855 L1553.9 854.4 L1554.9 853.7 L1555.9 853 L1556.9 852.4 L1557.9 851.8 L1558.9 851.1 L1559.9 850.4 L1560.9 849.6 L1561.9 848.6 L1562.9 847.6 L1563.9 846.5 L1564.8 845.5 L1565.8 844.7 L1566.8 844.1 L1567.8 843.6 L1568.8 843.3 L1569.8 842.9 L1570.8 842.6 L1571.8 842.2 L1572.8 841.8 L1573.8 841.5 L1574.8 841.7 L1575.8 842.3 L1576.7 843.4 L1577.7 847.4 L1578.7 853.6 L1579.7 863.2 L1580.7 872.8 L1581.7 882.5 L1583.2 795 L1585.9 741.4 L1587.5 706" stroke="#f0f"/>
<path d="M208 668 L211 667.7 L214 667.5 L217 667.2 L220 667 L222.9 666.8 L225.9 666.6 L228.9 666.5 L231.9 666.5 L234.9 666.4 L237.9 666.4 L240.9 666.4 L243.9 666.3 L246.9 666.3 L249.8 666.2 L252.8 666.2 L255.8 666.2 L258.8 666.2 L261.8 666.1 L264.8 666.1 L267.8 666.1 L270.8 666.1 L273.8 666.1 L276.7 666.1 L279.7 666 L282.7 666 L285.7 666 L288.7 666 L291.7 666 L294.7 666 L297.7 666 L300.7 666 L303.6 666 L306.6 666 L309.6 666 L312.6 666 L315.6 666 L318.6 666 L321.6 666 L324.6 666 L327.6 666 L330.5 666 L333.5 666 L336.5 666 L339.5 666 L342.5 666 L345.5 666 L348.5 666 L351.5 666 L354.5 666 L357.4 666 L360.4 666 L363.4 666 L366.4 666 L369.4 666 L372.4 666 L375.4 666 L378.4 666 L381.3 666 L384.3 666 L387.3 666 L390.3 666 L393.3 666 L396.3 666 L399.3 666 L402.3 666 L405.3 666 L408.2 666 L411.2 666 L414.2 666 L417.2 666 L420.2 666 L423.2 666 L426.2 666 L429.2 666 L432.2 666 L435.1 666 L438.1 666 L441.1 666 L444.1 666 L447.1 666 L450.1 666 L453.1 666 L456.1 666 L459.1 666 L462 666 L465 666 L468 666 L471 666 L474 666 L477 666 L480 666 L483 666 L486 666 L488.9 666 L491.9 666 L494.9 666 L497.9 666 L500.9 666 L503.9 666 L506.9 666 L509.9 666 L512.9 666 L515.8 666 L518.8 666 L521.8 666 L524.8 666 L527.8 666 L530.8 666 L533.8 666 L536.8 666 L539.8 666 L542.7 666 L545.7 666 L548.7 666 L551.7 666 L554.7 666 L557.7 666 L560.7 666 L563.7 666 L566.7 666 L569.6 666 L572.6 666 L575.6 666 L578.6 666 L581.6 666 L584.6 666 L587.6 666 L590.6 666 L593.6 666 L596.5 666 L599.5 666 L602.5 666 L605.5 666 L608.5 666 L611.5 666 L614.5 666 L617.5 666 L620.5 666 L623.4 666 L626.4 666 L629.4 666 L632.4 666 L635.4 666 L638.4 666 L641.4 666 L644.4 666 L647.4 666 L650.3 666 L653.3 666 L656.3 666 L659.3 666 L662.3 666 L665.3 666 L668.3 666 L671.3 666 L674.3 666 L677.2 666 L680.2 666 L683.2 666 L686.2 666 L689.2 666 L692.2 666 L695.2 666.1 L698.2 666.1 L701.2 666.1 L704.1 666.2 L707.1 666.2 L710.1 666.2 L713.1 666.3 L716.1 666.3 L719.1 666.4 L722.1 666.4 L725.1 666.5 L728 666.5 L731 666.6 L734 666.6 L737 666.7 L740 666.8 L743 666.8 L746 666.9 L749 666.9 L752 667 L754.9 667 L757.9 667.1 L760.9 667.1 L763.9 667.2 L766.9 667.2 L769.9 667.3 L772.9 667.3 L775.9 667.4 L778.9 667.4 L781.8 667.5 L784.8 667.6 L787.8 667.6 L790.8 667.7 L793.8 667.7 L796.8 667.8 L799.8 667.8 L802.8 667.9 L805.8 667.9 L808.7 668 L811.7 668.1 L814.7 668.1 L817.7 668.2 L820.7 668.2 L823.7 668.3 L826.7 668.3 L829.7 668.4 L832.7 668.4 L835.6 668.5 L838.6 668.5 L841.6 668.6 L844.6 668.6 L847.6 668.7 L850.6 668.7 L853.6 668.7 L856.6 668.8 L859.6 668.8 L862.5 668.9 L865.5 668.9 L868.5 668.9 L871.5 669 L874.5 669" stroke="#000" stroke-dasharray="21.9 19.77" stroke-dashoffset="1.5"/>
<path d="M902 627 L905 625.9 L908 625.6 L911 626 L914 626.6 L917 627.3 L919.9 627.7 L922.9 628.1 L925.9 628.3 L928.9 628.5 L931.9 628.5 L934.9 628.5 L937.9 628.5 L940.9 628.4 L943.9 628.3 L946.9 628.1 L949.9 627.9 L952.8 627.7 L955.8 627.5 L958.8 627.2 L961.8 626.9 L964.8 626.6 L967.8 626.3 L970.8 626 L973.8 625.6 L976.8 625.3 L979.8 624.9 L982.8 624.6 L985.7 624.3 L988.7 623.9 L991.7 623.6 L994.7 623.3 L997.7 623 L1000.7 622.8 L1003.7 622.5 L1006.7 622.3 L1009.7 622.1 L1012.7 621.9 L1015.7 621.8 L1018.6 621.7 L1021.6 621.7 L1024.6 621.7 L1027.6 621.7 L1030.6 621.8 L1033.6 621.9 L1036.6 622 L1039.6 622.2 L1042.6 622.4 L1045.6 622.7 L1048.6 622.9 L1051.5 623.3 L1054.5 623.6 L1057.5 624 L1060.5 624.4 L1063.5 624.8 L1066.5 625.3 L1069.5 625.7 L1072.5 626.2 L1075.5 626.8 L1078.5 627.3 L1081.5 627.9 L1084.5 628.5 L1087.4 629.1 L1090.4 629.8 L1093.4 630.4 L1096.4 631.1 L1099.4 631.8 L1102.4 632.5 L1105.4 633.3 L1108.4 634 L1111.4 634.8 L1114.4 635.6 L1117.4 636.3 L1120.3 637.1 L1123.3 637.9 L1126.3 638.8 L1129.3 639.6 L1132.3 640.4 L1135.3 641.3 L1138.3 642.1 L1141.3 643 L1144.3 643.8 L1147.3 644.7 L1150.3 645.6 L1153.2 646.5 L1156.2 647.3 L1159.2 648.2 L1162.2 649.1 L1165.2 649.9 L1168.2 650.8 L1171.2 651.7 L1174.2 652.5 L1177.2 653.4 L1180.2 654.2 L1183.2 655.1 L1186.1 655.9 L1189.1 656.7 L1192.1 657.6 L1195.1 658.4 L1198.1 659.2 L1201.1 660 L1204.1 660.7 L1207.1 661.5 L1210.1 662.2 L1213.1 663 L1216.1 663.7 L1219 664.4 L1222 665.1 L1225 665.7 L1228 666.4 L1231 667 L1234 667.6 L1237 668.2 L1240 668.7 L1243 669.3 L1246 669.9 L1249 670.4 L1251.9 671 L1254.9 671.5 L1257.9 672.1 L1260.9 672.7 L1263.9 673.2 L1266.9 673.8 L1269.9 674.4 L1272.9 675 L1275.9 675.6 L1278.9 676.2 L1281.9 676.8 L1284.8 677.3 L1287.8 677.8 L1290.8 678.3 L1293.8 678.8 L1296.8 679.2 L1299.8 679.6 L1302.8 679.9 L1305.8 680.1 L1308.8 680.4 L1311.8 680.5 L1314.8 680.7 L1317.7 680.8 L1320.7 680.8 L1323.7 680.9 L1326.7 680.9 L1329.7 680.9 L1332.7 680.9 L1335.7 680.8 L1338.7 680.8 L1341.7 680.7 L1344.7 680.7 L1347.7 680.6 L1350.6 680.6 L1353.6 680.6 L1356.6 680.5 L1359.6 680.5 L1362.6 680.5 L1365.6 680.4 L1368.6 680.4 L1371.6 680.4 L1374.6 680.3 L1377.6 680.3 L1380.6 680.3 L1383.5 680.2 L1386.5 680.2 L1389.5 680.2 L1392.5 680.1 L1395.5 680.1 L1398.5 680 L1401.5 680 L1404.5 679.9 L1407.5 679.9 L1410.5 679.8 L1413.5 679.7 L1416.5 679.6 L1419.4 679.5 L1422.4 679.5 L1425.4 679.3 L1428.4 679.2 L1431.4 679.1 L1434.4 679 L1437.4 678.8 L1440.4 678.7 L1443.4 678.5 L1446.4 678.4 L1449.4 678.2 L1452.3 678 L1455.3 677.8 L1458.3 677.6 L1461.3 677.4 L1464.3 677.2 L1467.3 676.9 L1470.3 676.7 L1473.3 676.4 L1476.3 676.2 L1479.3 675.9 L1482.3 675.6 L1485.2 675.3 L1488.2 675 L1491.2 674.7 L1494.2 674.4 L1497.2 674 L1500.2 673.7 L1503.2 673.3 L1506.2 672.9 L1509.2 672.5 L1512.2 672.1 L1515.2 671.7 L1518.1 671.3 L1521.1 670.9 L1524.1 670.4 L1527.1 670 L1530.1 669.5 L1533.1 669 L1536.1 668.5 L1539.1 668 L1542.1 667.5 L1545.1 666.9 L1548.1 666.4 L1551 665.8 L1554 665.2 L1557 664.7 L1560 664 L1563 663.4 L1566 662.8" stroke="#000" stroke-dasharray="21.9 19.77" stroke-dashoffset="-21.9"/>
<path d="M899 626.6 L915.7 626.6" stroke="#000"/>
<path d="M876.5 698 V720" stroke="#000"/>
<path d="M873.5 745 L888 745" stroke="#000"/>
<path d="M1588 538 V543" stroke="#000"/>
<path d="M1586.6 562 V583.8" stroke="#000"/>
<path d="M208 668 L211 669.5 L214 671 L217 672.5 L220 674 L223 675.4 L226 676.9 L229 678.4 L232 679.9 L235 681.4 L238 682.9 L241 684.4 L244 686 L247 687.5 L250 689 L253 690.5 L256 692 L259 693.5 L262 695 L265 696.5 L268 698 L271 699.5 L274 701 L277.1 702.5 L280.1 704 L283.1 705.5 L286.1 706.9 L289.1 708.4 L292.1 709.9 L295.1 711.4 L298.1 712.9 L301.1 714.3 L304.1 715.8 L307.1 717.3 L310.1 718.7 L313.1 720.2 L316.1 721.6 L319.1 723.1 L322.1 724.5 L325.1 726 L328.1 727.4 L331.1 728.8 L334.1 730.3 L337.1 731.7 L340.1 733.1 L343.1 734.5 L346.1 735.9 L349.1 737.3 L352.1 738.6 L355.1 740 L358.1 741.4 L361.1 742.7 L364.1 744.1 L367.1 745.4 L370.1 746.8 L373.1 748.1 L376.1 749.4 L379.1 750.7 L382.1 752 L385.1 753.3 L388.1 754.6 L391.1 755.8 L394.1 757.1 L397.1 758.3 L400.1 759.6 L403.1 760.8 L406.1 762 L409.2 763.2 L412.2 764.4 L415.2 765.6 L418.2 766.8 L421.2 767.9 L424.2 769.1 L427.2 770.2 L430.2 771.4 L433.2 772.5 L436.2 773.6 L439.2 774.7 L442.2 775.7 L445.2 776.8 L448.2 777.9 L451.2 778.9 L454.2 779.9 L457.2 780.9 L460.2 781.9 L463.2 782.9 L466.2 783.9 L469.2 784.8 L472.2 785.8 L475.2 786.7 L478.2 787.6 L481.2 788.5 L484.2 789.4 L487.2 790.3 L490.2 791.1 L493.2 792 L496.2 792.8 L499.2 793.6 L502.2 794.4 L505.2 795.2 L508.2 795.9 L511.2 796.7 L514.2 797.4 L517.2 798.1 L520.2 798.8 L523.2 799.5 L526.2 800.2 L529.2 800.8 L532.2 801.4 L535.2 802.1 L538.2 802.7 L541.2 803.2 L544.3 803.8 L547.3 804.4 L550.3 804.9 L553.3 805.4 L556.3 805.9 L559.3 806.4 L562.3 806.9 L565.3 807.3 L568.3 807.7 L571.3 808.1 L574.3 808.5 L577.3 808.9 L580.3 809.3 L583.3 809.6 L586.3 809.9 L589.3 810.3 L592.3 810.5 L595.3 810.8 L598.3 811.1 L601.3 811.3 L604.3 811.5 L607.3 811.7 L610.3 811.9 L613.3 812.1 L616.3 812.2 L619.3 812.3 L622.3 812.5 L625.3 812.5 L628.3 812.6 L631.3 812.7 L634.3 812.7 L637.3 812.7 L640.3 812.7 L643.3 812.7 L646.3 812.7 L649.3 812.6 L652.3 812.6 L655.3 812.5 L658.3 812.4 L661.3 812.3 L664.3 812.1 L667.3 812 L670.3 811.8 L673.3 811.6 L676.4 811.4 L679.4 811.1 L682.4 810.9 L685.4 810.6 L688.4 810.3 L691.4 810 L694.4 809.7 L697.4 809.4 L700.4 809 L703.4 808.7 L706.4 808.3 L709.4 807.9 L712.4 807.5 L715.4 807 L718.4 806.6 L721.4 806.1 L724.4 805.6 L727.4 805.1 L730.4 804.6 L733.4 804.1 L736.4 803.5 L739.4 802.9 L742.4 802.3 L745.4 801.7 L748.4 801.1 L751.4 800.5 L754.4 799.8 L757.4 799.2 L760.4 798.5 L763.4 797.8 L766.4 797.1 L769.4 796.3 L772.4 795.6 L775.4 794.8 L778.4 794.1 L781.4 793.3 L784.4 792.5 L787.4 791.7 L790.4 790.8 L793.4 790 L796.4 789.1 L799.4 788.2 L802.4 787.4 L805.4 786.5 L808.5 785.5 L811.5 784.6 L814.5 783.7 L817.5 782.7 L820.5 781.7 L823.5 780.8 L826.5 779.8 L829.5 778.8 L832.5 777.8 L835.5 776.7 L838.5 775.7 L841.5 774.6 L844.5 773.6 L847.5 772.5 L850.5 771.4 L853.5 770.3 L856.5 769.2 L859.5 768.1 L862.5 766.9 L865.5 765.8 L868.5 764.6 L871.5 763.5 L874.5 762.3" stroke="#00f" stroke-dasharray="21.9 19.77" stroke-dashoffset="1.5"/>
<path d="M902 716 L903 717.3 L904 718.5 L905 719.5 L906 720.4 L907 721.1 L908 721.8 L909 722.5 L910 723 L911 723.5 L912 723.9 L913 724.3 L914 724.7 L915 725 L916 725.3 L917 725.6 L918 725.9 L919 726.1 L920 726.3 L921 726.5 L922 726.5 L923 726.5 L924 726.5 L925 726.5 L926 726.5 L927 726.5 L928 726.5 L929 726.5 L930 726.5 L930 726.5 L933 726.2 L936 725.7 L939 725.1 L942 724.3 L945 723.3 L948 722.3 L951 721.1 L954 719.7 L957 718.3 L960 716.8 L963 715.2 L966 713.4 L969 711.6 L972 709.8 L975 707.8 L978 705.8 L981 703.8 L984 701.7 L987 699.6 L990 697.4 L993 695.2 L996 693.1 L999 690.9 L1002 688.7 L1005 686.5 L1008 684.4 L1011 682.2 L1014 680.1 L1017 678 L1020 675.9 L1023 673.9 L1026 671.8 L1029 669.8 L1032 667.8 L1035 665.8 L1038 663.8 L1041 661.9 L1044 660 L1047 658 L1050 656.1 L1053 654.3 L1056 652.4 L1059 650.5 L1062 648.7 L1065 646.9 L1068 645.1 L1071 643.3 L1074 641.6 L1077 639.8 L1080 638.1 L1083 636.4 L1086 634.7 L1089 633 L1092 631.3 L1095 629.7 L1098 628.1 L1101 626.5 L1104 624.9 L1107 623.3 L1110 621.8 L1113 620.2 L1116 618.7 L1119 617.3 L1122 615.9 L1125 614.5 L1128 613.1 L1131 611.8 L1134 610.5 L1137 609.2 L1140 608 L1143 606.8 L1146 605.6 L1149 604.4 L1152 603.3 L1155 602.1 L1158 601 L1161 599.9 L1164 598.8 L1167 597.7 L1170 596.6 L1173 595.5 L1176 594.4 L1179 593.3 L1182 592.2 L1185 591.1 L1188 590 L1191 588.8 L1194 587.7 L1197 586.6 L1200 585.4 L1203 584.3 L1206 583.1 L1209 582 L1212 580.8 L1215 579.7 L1218 578.5 L1221 577.4 L1224 576.2 L1227 575 L1230 573.9 L1233 572.7 L1236 571.5 L1239 570.4 L1242 569.2 L1245 568 L1248 566.8 L1251 565.6 L1254 564.5 L1257 563.3 L1260 562.1 L1263 560.9 L1266 559.7 L1269 558.5 L1272 557.3 L1275 556.1 L1278 554.9 L1281 553.7 L1284 552.6 L1287 551.4 L1290 550.2 L1293 549 L1296 547.8 L1299 546.6 L1302 545.4 L1305 544.2 L1308 543 L1311 541.8 L1314 540.6 L1317 539.4 L1320 538.2 L1323 537.1 L1326 535.9 L1329 534.7 L1332 533.5 L1335 532.3 L1338 531.1 L1341 530 L1344 528.8 L1347 527.6 L1350 526.4 L1353 525.3 L1356 524.1 L1359 522.9 L1362 521.8 L1365 520.6 L1368 519.5 L1371 518.3 L1374 517.2 L1377 516 L1380 514.9 L1383 513.7 L1386 512.6 L1389 511.5 L1392 510.3 L1395 509.2 L1398 508.1 L1401 507 L1404 505.9 L1407 504.8 L1410 503.7 L1413 502.7 L1416 501.6 L1419 500.5 L1422 499.5 L1425 498.4 L1428 497.4 L1431 496.3 L1434 495.3 L1437 494.3 L1440 493.3 L1443 492.3 L1446 491.3 L1449 490.4 L1452 489.4 L1455 488.4 L1458 487.5 L1461 486.6 L1464 485.7 L1467 484.8 L1470 483.9 L1473 483 L1476 482.1 L1479 481.3 L1482 480.4 L1485 479.6 L1488 478.8 L1491 478 L1494 477.2 L1497 476.5 L1500 475.7 L1503 475 L1506 474.3 L1509 473.6 L1512 472.9 L1515 472.2 L1518 471.6 L1521 470.9 L1524 470.3 L1527 469.7 L1530 469.1 L1533 468.6 L1536 468 L1539 467.5 L1542 467 L1545 466.5 L1545 466.5 L1546 466.2 L1547 466 L1548 465.7 L1548.9 465.5 L1549.9 465.3 L1550.9 465 L1551.9 464.9 L1552.9 464.7 L1553.9 464.5 L1554.9 464.4 L1555.8 464.2 L1556.8 464.1 L1557.8 463.9 L1558.8 463.8 L1559.8 463.8 L1560.8 463.8 L1561.8 463.9 L1562.8 464 L1563.7 464.2 L1564.7 464.4 L1565.7 464.7 L1566.7 465.2 L1567.7 465.7 L1568.7 466.4 L1569.7 467.2 L1570.6 468.1 L1571.6 469.1 L1572.6 470.3 L1573.6 471.8 L1574.6 473.6 L1575.6 476.1 L1576.6 479.3 L1577.5 483.6 L1578.5 490.5 L1579.5 502 L1580.5 522" stroke="#00f" stroke-dasharray="21.9 19.77" stroke-dashoffset="-5.0"/>
<circle cx="872.3" cy="770.3" r="4.6" fill="#00f"/>
<path d="M876.3 777 V798.5" stroke="#00f"/>
<path d="M876.3 818.5 V840" stroke="#00f"/>
<path d="M876.3 859.2 V880.7" stroke="#00f"/>
<path d="M876.3 900.5 V922" stroke="#00f"/>
<path d="M876.3 942.3 V963.8" stroke="#00f"/>
<path d="M876.3 983.5 V998.3" stroke="#00f"/>
<path d="M872.3 994.3 L885 994.3" stroke="#00f"/>
<path d="M899.3 973.4 V994.8" stroke="#00f"/>
<path d="M899.3 933.7 V955.2" stroke="#00f"/>
<path d="M899.3 712 V730.7" stroke="#00f"/>
<path d="M1581 499.3 V522" stroke="#00f"/>
<path d="M1584 458.2 V479.7" stroke="#00f"/>
<path d="M1585 417 V438.6" stroke="#00f"/>
<path d="M1586.9 376.2 V397.6" stroke="#00f"/>
<path d="M208 668 L211 670 L214 672 L217 674 L220 676 L223 678 L226.1 680 L229.1 682 L232.1 684 L235.1 686 L238.1 688.1 L241.1 690.1 L244.1 692.1 L247.1 694.1 L250.1 696.1 L253.1 698.1 L256.1 700.1 L259.2 702.1 L262.2 704.1 L265.2 706.1 L268.2 708.1 L271.2 710.1 L274.2 712.1 L277.2 714.1 L280.2 716.1 L283.2 718 L286.2 720 L289.3 722 L292.3 724 L295.3 725.9 L298.3 727.9 L301.3 729.8 L304.3 731.8 L307.3 733.7 L310.3 735.6 L313.3 737.6 L316.3 739.5 L319.3 741.4 L322.4 743.3 L325.4 745.2 L328.4 747.1 L331.4 749 L334.4 750.9 L337.4 752.7 L340.4 754.6 L343.4 756.4 L346.4 758.3 L349.4 760.1 L352.4 761.9 L355.5 763.7 L358.5 765.5 L361.5 767.3 L364.5 769.1 L367.5 770.8 L370.5 772.6 L373.5 774.3 L376.5 776.1 L379.5 777.8 L382.5 779.5 L385.6 781.2 L388.6 782.8 L391.6 784.5 L394.6 786.2 L397.6 787.8 L400.6 789.4 L403.6 791 L406.6 792.6 L409.6 794.2 L412.6 795.8 L415.6 797.3 L418.7 798.9 L421.7 800.4 L424.7 801.9 L427.7 803.4 L430.7 804.9 L433.7 806.3 L436.7 807.8 L439.7 809.2 L442.7 810.6 L445.7 812 L448.7 813.4 L451.8 814.7 L454.8 816.1 L457.8 817.4 L460.8 818.7 L463.8 820 L466.8 821.3 L469.8 822.5 L472.8 823.7 L475.8 825 L478.8 826.2 L481.9 827.3 L484.9 828.5 L487.9 829.6 L490.9 830.7 L493.9 831.8 L496.9 832.9 L499.9 834 L502.9 835 L505.9 836 L508.9 837 L511.9 838 L515 839 L518 839.9 L521 840.8 L524 841.7 L527 842.6 L530 843.4 L533 844.2 L536 845 L539 845.8 L542 846.6 L545 847.3 L548.1 848.1 L551.1 848.8 L554.1 849.4 L557.1 850.1 L560.1 850.7 L563.1 851.3 L566.1 851.9 L569.1 852.5 L572.1 853 L575.1 853.5 L578.1 854 L581.2 854.5 L584.2 854.9 L587.2 855.4 L590.2 855.8 L593.2 856.1 L596.2 856.5 L599.2 856.8 L602.2 857.1 L605.2 857.4 L608.2 857.7 L611.3 857.9 L614.3 858.1 L617.3 858.3 L620.3 858.5 L623.3 858.7 L626.3 858.8 L629.3 858.9 L632.3 858.9 L635.3 859 L638.3 859 L641.3 859 L644.4 859 L647.4 859 L650.4 858.9 L653.4 858.8 L656.4 858.7 L659.4 858.5 L662.4 858.4 L665.4 858.2 L668.4 858 L671.4 857.8 L674.4 857.5 L677.5 857.2 L680.5 856.9 L683.5 856.6 L686.5 856.2 L689.5 855.9 L692.5 855.5 L695.5 855 L698.5 854.6 L701.5 854.1 L704.5 853.7 L707.6 853.1 L710.6 852.6 L713.6 852 L716.6 851.5 L719.6 850.9 L722.6 850.2 L725.6 849.6 L728.6 848.9 L731.6 848.2 L734.6 847.5 L737.6 846.8 L740.7 846 L743.7 845.2 L746.7 844.4 L749.7 843.6 L752.7 842.8 L755.7 841.9 L758.7 841 L761.7 840.1 L764.7 839.2 L767.7 838.2 L770.7 837.2 L773.8 836.2 L776.8 835.2 L779.8 834.2 L782.8 833.1 L785.8 832.1 L788.8 831 L791.8 829.9 L794.8 828.7 L797.8 827.6 L800.8 826.4 L803.9 825.2 L806.9 824 L809.9 822.8 L812.9 821.5 L815.9 820.2 L818.9 819 L821.9 817.7 L824.9 816.3 L827.9 815 L830.9 813.6 L833.9 812.3 L837 810.9 L840 809.5 L843 808 L846 806.6 L849 805.1 L852 803.6 L852 808.3 L853 807.6 L854 807 L855 806.4 L856 805.8 L857 805.3 L858 804.7 L859 804.2 L860 803.7 L861 803.3 L862 802.9 L863 802.6 L864 802.4 L865 802.2 L866 802 L867 801.8 L868 801.7 L869 801.6 L870 801.5 L871 801.4 L872 801.4 L873 801.3 L874 801.3 L875 801.3 L876 801.2 L877 801.2 L878 801.2" stroke="#f00" stroke-dasharray="21.9 19.77" stroke-dashoffset="1.5"/>
<path d="M902 748 L903 749.2 L904 750.4 L905 751.6 L906 752.8 L907 754.1 L908 755.4 L909 756.5 L910 757.4 L911 758.3 L912 759.1 L913 759.7 L914 760.2 L915 760.7 L916 761.1 L916.9 761.4 L917.9 761.6 L918.9 761.7 L919.9 761.9 L920.9 762 L921.9 762 L922.9 762 L923.9 761.9 L924.9 761.8 L925.9 761.8 L926.9 761.7 L927.9 761.5 L928.9 761.4 L929.9 761.3 L930.9 761.1 L933.8 760.6 L936.8 759.9 L939.7 759.1 L942.7 758.2 L945.6 757.3 L948.6 756.1 L951.5 754.8 L954.4 753.4 L957.4 751.9 L960.3 750 L963.3 748 L966.2 745.7 L969.1 743.3 L972.1 740.7 L975 738 L978 735.4 L980.9 732.7 L983.9 729.9 L986.8 727 L989.7 724 L992.7 721 L995.6 718.1 L998.6 715.1 L1001.5 712.2 L1004.5 709.2 L1007.4 706.3 L1007.4 706.3 L1010.4 703.2 L1013.4 700.1 L1016.4 697 L1019.3 693.9 L1022.3 690.8 L1025.3 687.8 L1028.3 684.8 L1031.3 681.8 L1034.3 678.9 L1037.3 676 L1040.3 673.1 L1043.2 670.3 L1046.2 667.5 L1049.2 664.7 L1052.2 662 L1055.2 659.3 L1058.2 656.6 L1061.2 654 L1064.1 651.4 L1067.1 648.8 L1070.1 646.3 L1073.1 643.8 L1076.1 641.4 L1079.1 639 L1082.1 636.7 L1085.1 634.3 L1088 632.1 L1091 629.8 L1094 627.6 L1097 625.5 L1100 623.3 L1103 621.2 L1106 619.1 L1108.9 617.1 L1111.9 615.1 L1114.9 613.1 L1117.9 611.1 L1120.9 609.1 L1123.9 607.2 L1126.9 605.2 L1129.9 603.3 L1132.8 601.4 L1135.8 599.5 L1138.8 597.6 L1141.8 595.8 L1144.8 593.9 L1147.8 592 L1150.8 590.2 L1153.8 588.3 L1156.7 586.4 L1159.7 584.5 L1162.7 582.7 L1165.7 580.8 L1168.7 578.9 L1171.7 577 L1174.7 575.2 L1177.6 573.3 L1180.6 571.4 L1183.6 569.6 L1186.6 567.7 L1189.6 565.8 L1192.6 564 L1195.6 562.1 L1198.6 560.2 L1201.5 558.4 L1204.5 556.5 L1207.5 554.7 L1210.5 552.8 L1213.5 550.9 L1216.5 549.1 L1219.5 547.2 L1222.4 545.4 L1225.4 543.5 L1228.4 541.7 L1231.4 539.9 L1234.4 538 L1237.4 536.2 L1240.4 534.4 L1243.4 532.5 L1246.3 530.7 L1249.3 528.9 L1252.3 527.1 L1255.3 525.2 L1258.3 523.4 L1261.3 521.6 L1264.3 519.8 L1267.2 518 L1270.2 516.2 L1273.2 514.4 L1276.2 512.6 L1279.2 510.9 L1282.2 509.1 L1285.2 507.3 L1288.2 505.5 L1291.1 503.7 L1294.1 501.9 L1297.1 500.2 L1300.1 498.4 L1303.1 496.6 L1306.1 494.8 L1309.1 493.1 L1312 491.3 L1315 489.5 L1318 487.8 L1321 486 L1324 484.3 L1327 482.5 L1330 480.8 L1333 479.1 L1335.9 477.4 L1338.9 475.7 L1341.9 474 L1344.9 472.3 L1347.9 470.7 L1350.9 469 L1353.9 467.4 L1356.8 465.8 L1359.8 464.2 L1362.8 462.6 L1365.8 461 L1368.8 459.4 L1371.8 457.9 L1374.8 456.3 L1377.8 454.8 L1380.7 453.3 L1383.7 451.8 L1386.7 450.3 L1389.7 448.8 L1392.7 447.3 L1395.7 445.8 L1398.7 444.4 L1401.6 442.9 L1404.6 441.5 L1407.6 440.1 L1410.6 438.7 L1413.6 437.3 L1416.6 435.9 L1419.6 434.5 L1422.6 433.2 L1425.5 431.8 L1428.5 430.5 L1431.5 429.2 L1434.5 427.9 L1437.5 426.6 L1440.5 425.3 L1443.5 424 L1446.5 422.7 L1449.4 421.5 L1452.4 420.2 L1455.4 419 L1458.4 417.8 L1461.4 416.6 L1464.4 415.4 L1467.4 414.3 L1470.3 413.2 L1473.3 412 L1476.3 411 L1479.3 409.9 L1482.3 408.8 L1485.3 407.8 L1488.3 406.8 L1491.3 405.9 L1494.2 404.9 L1497.2 404 L1500.2 403.1 L1503.2 402.3 L1506.2 401.5 L1509.2 400.7 L1512.2 399.9 L1515.1 399.2 L1518.1 398.5 L1521.1 397.9 L1524.1 397.3 L1527.1 396.7 L1530.1 396.2 L1533.1 395.7 L1536.1 395.2 L1539 394.8 L1542 394.5 L1545 394.2 L1548 393.9 L1548 393.9 L1549 393.7 L1550 393.6 L1551 393.4 L1551.9 393.3 L1552.9 393.3 L1553.9 393.2 L1554.9 393.1 L1555.9 393 L1556.9 393 L1557.9 393 L1558.9 393.1 L1559.8 393.2 L1560.8 393.4 L1561.8 393.7 L1562.8 394 L1563.8 394.4 L1564.8 395 L1565.8 395.8 L1566.8 397 L1567.7 398.5 L1568.7 400.2 L1569.7 402 L1570.7 404.1 L1571.7 406.5 L1572.7 409.1 L1573.7 411.8 L1574.7 414.6 L1575.6 417.6 L1576.6 421 L1577.6 424.8 L1578.6 429.5" stroke="#f00"/>
<circle cx="1578.4" cy="430.6" r="4" fill="#f00"/>
<path d="M876.3 789.6 V806.8" stroke="#f00"/>
<path d="M876.3 810 V832" stroke="#f00"/>
<path d="M876.3 851.3 V877.5" stroke="#f00"/>
<path d="M876.3 893 V914" stroke="#f00"/>
<circle cx="876.3" cy="929.5" r="3.8" fill="#f00"/>
<path d="M876.3 934.3 V955.7" stroke="#f00"/>
<circle cx="876.3" cy="970" r="3.9" fill="#f00"/>
<path d="M876.3 976 V1034" stroke="#f00"/>
<path d="M872.3 1034.5 L887 1029.5" stroke="#f00"/>
<path d="M887 1029.5 L899.3 1023" stroke="#f00"/>
<circle cx="876.3" cy="1034" r="4" fill="#f00"/>
<circle cx="899.3" cy="999.1" r="4" fill="#f00"/>
<path d="M899.3 1004.5 V1049.2" stroke="#f00"/>
<circle cx="899.3" cy="1049.2" r="4" fill="#f00"/>
<path d="M899.3 963.2 V984.1" stroke="#f00"/>
<path d="M899.3 751 V952" stroke="#f00"/>
<path d="M1579.8 444.4 V461.8" stroke="#f00"/>
<path d="M1584.1 409.2 V430.6" stroke="#f00"/>
<circle cx="1584.8" cy="399" r="3.9" fill="#f00"/>
<path d="M1586.2 368 V390" stroke="#f00"/>
<path d="M1587.2 325 V347.7" stroke="#f00"/>
<circle cx="1587.2" cy="325" r="4" fill="#f00"/>
<path d="M208 668 L211 669.2 L214 670.5 L217 671.7 L220 672.9 L223 674.2 L226 675.4 L229 676.7 L232 677.9 L235 679.2 L238 680.4 L241 681.7 L244 683 L247 684.2 L250 685.5 L253 686.8 L256 688 L259 689.3 L262 690.6 L265 691.8 L268 693.1 L271 694.4 L274 695.7 L277.1 696.9 L280.1 698.2 L283.1 699.5 L286.1 700.8 L289.1 702 L292.1 703.3 L295.1 704.6 L298.1 705.8 L301.1 707.1 L304.1 708.3 L307.1 709.6 L310.1 710.8 L313.1 712.1 L316.1 713.3 L319.1 714.6 L322.1 715.8 L325.1 717.1 L328.1 718.3 L331.1 719.5 L334.1 720.7 L337.1 722 L340.1 723.2 L343.1 724.4 L346.1 725.6 L349.1 726.8 L352.1 728 L355.1 729.2 L358.1 730.3 L361.1 731.5 L364.1 732.7 L367.1 733.8 L370.1 735 L373.1 736.1 L376.1 737.3 L379.1 738.4 L382.1 739.5 L385.1 740.6 L388.1 741.7 L391.1 742.8 L394.1 743.9 L397.1 745 L400.1 746.1 L403.1 747.1 L406.1 748.2 L409.2 749.2 L412.2 750.2 L415.2 751.2 L418.2 752.3 L421.2 753.3 L424.2 754.2 L427.2 755.2 L430.2 756.2 L433.2 757.1 L436.2 758.1 L439.2 759 L442.2 759.9 L445.2 760.8 L448.2 761.7 L451.2 762.6 L454.2 763.5 L457.2 764.4 L460.2 765.2 L463.2 766.1 L466.2 766.9 L469.2 767.7 L472.2 768.5 L475.2 769.3 L478.2 770 L481.2 770.8 L484.2 771.5 L487.2 772.3 L490.2 773 L493.2 773.7 L496.2 774.4 L499.2 775 L502.2 775.7 L505.2 776.4 L508.2 777 L511.2 777.6 L514.2 778.2 L517.2 778.8 L520.2 779.4 L523.2 779.9 L526.2 780.5 L529.2 781 L532.2 781.5 L535.2 782 L538.2 782.5 L541.2 783 L544.3 783.4 L547.3 783.9 L550.3 784.3 L553.3 784.7 L556.3 785.1 L559.3 785.5 L562.3 785.8 L565.3 786.2 L568.3 786.5 L571.3 786.8 L574.3 787.1 L577.3 787.4 L580.3 787.6 L583.3 787.9 L586.3 788.1 L589.3 788.4 L592.3 788.6 L595.3 788.7 L598.3 788.9 L601.3 789.1 L604.3 789.2 L607.3 789.3 L610.3 789.4 L613.3 789.5 L616.3 789.6 L619.3 789.7 L622.3 789.7 L625.3 789.8 L628.3 789.8 L631.3 789.8 L634.3 789.8 L637.3 789.7 L640.3 789.7 L643.3 789.6 L646.3 789.5 L649.3 789.4 L652.3 789.3 L655.3 789.2 L658.3 789.1 L661.3 788.9 L664.3 788.8 L667.3 788.6 L670.3 788.4 L673.3 788.2 L676.4 787.9 L679.4 787.7 L682.4 787.4 L685.4 787.2 L688.4 786.9 L691.4 786.6 L694.4 786.3 L697.4 786 L700.4 785.6 L703.4 785.3 L706.4 784.9 L709.4 784.5 L712.4 784.1 L715.4 783.7 L718.4 783.3 L721.4 782.9 L724.4 782.4 L727.4 782 L730.4 781.5 L733.4 781 L736.4 780.5 L739.4 780 L742.4 779.5 L745.4 779 L748.4 778.4 L751.4 777.9 L754.4 777.3 L757.4 776.7 L760.4 776.1 L763.4 775.5 L766.4 774.9 L769.4 774.3 L772.4 773.7 L775.4 773.1 L778.4 772.4 L781.4 771.7 L784.4 771.1 L787.4 770.4 L790.4 769.7 L793.4 769 L796.4 768.3 L799.4 767.6 L802.4 766.9 L805.4 766.2 L808.5 765.4 L811.5 764.7 L814.5 763.9 L817.5 763.2 L820.5 762.4 L823.5 761.6 L826.5 760.8 L829.5 760 L832.5 759.3 L835.5 758.5 L838.5 757.6 L841.5 756.8 L844.5 756 L847.5 755.2 L850.5 754.4 L853.5 753.5 L856.5 752.7 L859.5 751.9 L862.5 751 L865.5 750.2 L868.5 749.3 L871.5 748.4 L874.5 747.6" stroke="#f0f" stroke-dasharray="21.9 19.77" stroke-dashoffset="1.5"/>
<path d="M902 717 L903 718.6 L904 719.9 L905 721 L906 721.8 L907 722.5 L908 723.1 L909 723.6 L910 724 L911 724.4 L912 724.7 L913 725 L914 725.2 L915 725.5 L916 725.8 L917 726.1 L918 726.3 L919 726.6 L920 726.8 L921 726.9 L922 727 L923 727 L924 727 L925 727 L926 727 L927 727 L928 727 L929 727 L930 727 L930 727 L933 726.6 L936 726.1 L939 725.4 L942 724.6 L945 723.7 L948 722.6 L951 721.4 L954 720.1 L957 718.6 L960 717.1 L963 715.5 L966 713.8 L969 712 L972 710.1 L975 708.2 L978 706.2 L981 704.2 L984 702.1 L987 700 L990 697.9 L993 695.8 L996 693.6 L999 691.4 L1002 689.3 L1005 687.1 L1008 685 L1011 682.8 L1014 680.7 L1017 678.7 L1020 676.6 L1023 674.5 L1026 672.5 L1029 670.5 L1032 668.5 L1035 666.6 L1038 664.6 L1041 662.7 L1044 660.8 L1047 658.9 L1050 657.1 L1053 655.2 L1056 653.4 L1059 651.7 L1062 649.9 L1065 648.2 L1068 646.5 L1071 644.8 L1074 643.2 L1077 641.6 L1080 640 L1083 638.4 L1086 636.9 L1089 635.4 L1092 633.9 L1095 632.5 L1098 631.1 L1101 629.7 L1104 628.4 L1107 627 L1110 625.7 L1113 624.5 L1116 623.2 L1119 622 L1122 620.8 L1125 619.6 L1128 618.4 L1131 617.3 L1134 616.1 L1137 615 L1140 613.9 L1143 612.8 L1146 611.6 L1149 610.6 L1152 609.5 L1155 608.4 L1158 607.3 L1161 606.2 L1164 605.1 L1167 604.1 L1170 603 L1173 601.9 L1176 600.8 L1179 599.7 L1182 598.6 L1185 597.5 L1188 596.4 L1191 595.3 L1194 594.2 L1197 593.1 L1200 592 L1203 590.9 L1206 589.7 L1209 588.6 L1212 587.5 L1215 586.4 L1218 585.2 L1221 584.1 L1224 583 L1227 581.8 L1230 580.7 L1233 579.5 L1236 578.4 L1239 577.3 L1242 576.1 L1245 575 L1248 573.8 L1251 572.7 L1254 571.5 L1257 570.4 L1260 569.2 L1263 568 L1266 566.9 L1269 565.7 L1272 564.6 L1275 563.4 L1278 562.2 L1281 561.1 L1284 559.9 L1287 558.8 L1290 557.6 L1293 556.4 L1296 555.3 L1299 554.1 L1302 552.9 L1305 551.8 L1308 550.6 L1311 549.4 L1314 548.3 L1317 547.1 L1320 545.9 L1323 544.7 L1326 543.6 L1329 542.4 L1332 541.2 L1335 540.1 L1338 538.9 L1341 537.7 L1344 536.6 L1347 535.4 L1350 534.3 L1353 533.1 L1356 531.9 L1359 530.8 L1362 529.6 L1365 528.5 L1368 527.3 L1371 526.1 L1374 525 L1377 523.8 L1380 522.7 L1383 521.5 L1386 520.4 L1389 519.3 L1392 518.1 L1395 517 L1398 515.9 L1401 514.8 L1404 513.7 L1407 512.6 L1410 511.5 L1413 510.4 L1416 509.3 L1419 508.2 L1422 507.2 L1425 506.1 L1428 505.1 L1431 504 L1434 503 L1437 502 L1440 501 L1443 500 L1446 499.1 L1449 498.1 L1452 497.1 L1455 496.2 L1458 495.3 L1461 494.4 L1464 493.5 L1467 492.6 L1470 491.8 L1473 490.9 L1476 490.1 L1479 489.3 L1482 488.5 L1485 487.7 L1488 487 L1491 486.2 L1494 485.5 L1497 484.8 L1500 484.1 L1503 483.4 L1506 482.7 L1509 482 L1512 481.3 L1515 480.7 L1518 480 L1521 479.4 L1524 478.7 L1527 478 L1530 477.4 L1533 476.7 L1536 476 L1539 475.4 L1542 474.7 L1545 474 L1545 474 L1546 473.8 L1547 473.6 L1548 473.3 L1548.9 473.2 L1549.9 473 L1550.9 472.8 L1551.9 472.7 L1552.9 472.5 L1553.9 472.4 L1554.9 472.3 L1555.8 472.2 L1556.8 472.1 L1557.8 472 L1558.8 472 L1559.8 472.1 L1560.8 472.2 L1561.8 472.5 L1562.8 472.9 L1563.7 473.2 L1564.7 473.6 L1565.7 474 L1566.7 474.6 L1567.7 475.2 L1568.7 475.8 L1569.7 476.4 L1570.6 477 L1571.6 477.7 L1572.6 478.5 L1573.6 479.6 L1574.6 481.1 L1575.6 483.4 L1576.6 486.4 L1577.5 490.3 L1578.5 496.3 L1579.5 505.5 L1580.5 520.4" stroke="#f0f" stroke-dasharray="21.9 19.77" stroke-dashoffset="-0.3"/>
<path d="M866 752.3 L877 749.3" stroke="#f0f"/>
<path d="M876.3 743.5 V757" stroke="#f0f"/>
<circle cx="876.3" cy="743.5" r="4" fill="#f0f"/>
<path d="M876.3 766 V788.6" stroke="#f0f"/>
<path d="M876.3 806.8 V829.3" stroke="#f0f"/>
<path d="M873 844.5 L901.3 835.8" stroke="#f0f"/>
<path d="M899.3 729.6 V751" stroke="#f0f"/>
<path d="M899.3 772.5 V794" stroke="#f0f"/>
<path d="M899.3 814.3 V835.7" stroke="#f0f"/>
<path d="M899.3 855 V881.8" stroke="#f0f"/>
<path d="M899.3 896.3 V923" stroke="#f0f"/>
<path d="M899.3 938 V952" stroke="#f0f"/>
<path d="M1582 491.3 V520.4" stroke="#f0f"/>
<path d="M1585.5 449.5 V471" stroke="#f0f"/>
<path d="M1587.8 414.1 V429.7" stroke="#f0f"/>
</g>
<g fill="#0000ff" stroke="#0000ff" shape-rendering="crispEdges">
<line x1="728.8" y1="1177.2" x2="863.5" y2="1115.4" stroke-width="9.5"/>
<polygon points="891.1,1103 852,1105.2 863.5,1115.4 863.2,1131" stroke="none"/>
<line x1="1200.4" y1="1177.2" x2="1144.7" y2="1123.7" stroke-width="9.5"/>
<polygon points="1123.1,1103.3 1159,1118.1 1144.7,1123.7 1139.5,1137.8" stroke="none"/>
</g>
<g fill="#0000ff" font-size="52.35">
<text transform="translate(334.7 1196.7) scale(1 1)">Flame stabilizer</text>
<text transform="translate(1212.5 1230) scale(1 1)">2/3 tube length</text>
</g>
<g fill="#262626" font-size="52.08">
<g text-anchor="middle">
<text transform="translate(207.2 1386) scale(1 1.045)">0</text>
<text transform="translate(558.2 1386) scale(1 1.045)">400</text>
<text transform="translate(909.2 1386) scale(1 1.045)">800</text>
<text transform="translate(1126.8 1386) scale(1 1.045)">1048</text>
<text transform="translate(1260.2 1386) scale(1 1.045)">1200</text>
<text transform="translate(1611.2 1386) scale(1 1.045)">1600</text>
</g>
<g text-anchor="end">
<text transform="translate(189 56.0) scale(1 1.045)">2</text>
<text transform="translate(189 215.9) scale(1 1.045)">1.5</text>
<text transform="translate(189 375.8) scale(1 1.045)">1</text>
<text transform="translate(189 535.6) scale(1 1.045)">0.5</text>
<text transform="translate(189 695.5) scale(1 1.045)">0</text>
<text transform="translate(189 855.4) scale(1 1.045)">-0.5</text>
<text transform="translate(189 1015.2) scale(1 1.045)">-1</text>
<text transform="translate(189 1175.1) scale(1 1.045)">-1.5</text>
<text transform="translate(189 1335.0) scale(1 1.045)">-2</text>
</g>
</g>
<g fill="#262626" font-size="52.08" font-style="italic">
<text transform="translate(666 1457) scale(1 1)">Axial Distance (mm)</text>
<text transform="translate(73.8 903) rotate(-90) scale(1 1)" letter-spacing="-0.16">Axial Velocity (m/s)</text>
</g>
<g shape-rendering="crispEdges"><rect x="1695" y="33" width="236" height="501" fill="#262626"/><rect x="1701" y="39" width="223" height="489" fill="#fff"/></g>
<g stroke-width="8.3" fill="none" shape-rendering="crispEdges">
<line x1="1708" y1="71" x2="1813" y2="71" stroke="#000"/>
<line x1="1708" y1="132" x2="1813" y2="132" stroke="#00f"/>
<line x1="1708" y1="192" x2="1813" y2="192" stroke="#f00"/>
<line x1="1708" y1="253" x2="1813" y2="253" stroke="#f0f"/>
<line x1="1708" y1="314" x2="1813" y2="314" stroke="#000" stroke-dasharray="21.9 19.77"/>
<line x1="1708" y1="374.5" x2="1813" y2="374.5" stroke="#00f" stroke-dasharray="21.9 19.77"/>
<line x1="1708" y1="435" x2="1813" y2="435" stroke="#f00" stroke-dasharray="21.9 19.77"/>
<line x1="1708" y1="496" x2="1813" y2="496" stroke="#f0f" stroke-dasharray="21.9 19.77"/>
</g>
<g fill="#000" font-size="46.9">
<text transform="translate(1820.6 89.5) scale(1 1.045)">T</text>
<text transform="translate(1820.6 150.5) scale(1 1.045)">T/8</text>
<text transform="translate(1820.6 210.5) scale(1 1.045)">T/4</text>
<text transform="translate(1820.6 271.5) scale(1 1.045)">3T/8</text>
<text transform="translate(1820.6 332.5) scale(1 1.045)">T/2</text>
<text transform="translate(1820.6 393) scale(1 1.045)">5/8</text>
<text transform="translate(1820.6 453.5) scale(1 1.045)">3T/4</text>
<text transform="translate(1820.6 514.5) scale(1 1.045)">7T/8</text>
</g>
</svg>
</body></html>
